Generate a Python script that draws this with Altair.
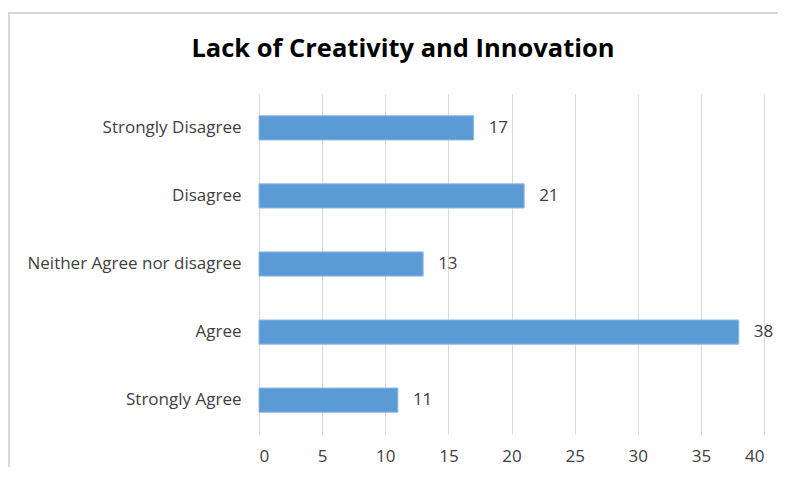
import altair as alt
import pandas as pd

categories = ["Strongly Disagree", "Disagree", "Neither Agree nor disagree", "Agree", "Strongly Agree"]
values = [17, 21, 13, 38, 11]
title_text = "Lack of Creativity and Innovation"

df = pd.DataFrame({"category": categories, "value": values})

FONT = "Open Sans"
FS = 17

y_enc = alt.Y("category:N", sort=categories, title=None,
              scale=alt.Scale(paddingInner=0.645, paddingOuter=0.32),
              axis=alt.Axis(ticks=False, domain=True, domainColor="#D9D9D9", domainWidth=1,
                            labelFont=FONT, labelFontSize=FS, labelColor="#404040",
                            labelPadding=18, labelLimit=300))
x_enc = alt.X("value:Q", title=None,
              scale=alt.Scale(domain=[0, 40], nice=False),
              axis=alt.Axis(values=[0, 5, 10, 15, 20, 25, 30, 35, 40], ticks=False, domain=False,
                            grid=True, gridColor="#D9D9D9", gridWidth=1,
                            labelFont=FONT, labelFontSize=FS, labelColor="#404040",
                            labelPadding=14))

bars = alt.Chart(df).mark_bar(color="#5B9BD5", stroke="#8DB8E3", strokeWidth=1).encode(x=x_enc, y=y_enc)
labels = alt.Chart(df).mark_text(align="left", dx=15, font=FONT, fontSize=FS, color="#404040").encode(
    x=x_enc, y=y_enc, text="value:Q")

one = pd.DataFrame({"a": [0]})
border_top = alt.Chart(one).mark_rule(stroke="#D9D9D9", strokeWidth=2).encode(
    x=alt.value(-251), x2=alt.value(520), y=alt.value(-81))
border_left = alt.Chart(one).mark_rule(stroke="#D9D9D9", strokeWidth=2).encode(
    x=alt.value(-250), y=alt.value(-82), y2=alt.value(380))

title = alt.Chart(pd.DataFrame({"t": [title_text]})).mark_text(
    font=FONT, fontSize=25.5, fontWeight="bold", color="#000000", align="center", baseline="middle").encode(
    text="t:N", x=alt.value(144), y=alt.value(-45))

chart = alt.layer(border_top, border_left, bars, labels, title).properties(
    width=505, height=340,
    autosize=alt.AutoSizeParams(type="none"),
    padding={"left": 251, "top": 86, "right": 14, "bottom": 33},
).configure(background="white").configure_view(strokeWidth=0, stroke="transparent")

chart.save("out.html", embed_options={"renderer": "svg", "actions": False})
